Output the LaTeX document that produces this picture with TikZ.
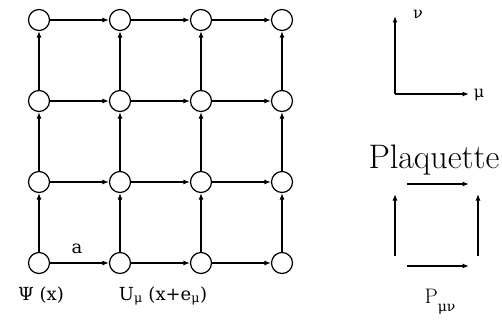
\documentclass[tikz,border=0pt]{standalone}
\usepackage{fontspec}
\newfontfamily\lblfont{DejaVu Serif}
\usetikzlibrary{arrows.meta}
\begin{document}
\begin{tikzpicture}[x=1pt,y=-1pt,
  site/.style={circle,draw,line width=1.2pt,minimum size=21pt,inner sep=0pt},
  link/.style={line width=1.2pt,-{Latex[length=6.5pt,width=5pt]}},
  lbl/.style={inner sep=0pt,anchor=base},
  small/.style={lbl,font=\lblfont\fontsize{18}{18}\selectfont}]
\useasboundingbox (0,0) rectangle (502,321);
\foreach \i/\x in {0/39,1/120,2/201,3/282}
  \foreach \j/\y in {0/263,1/182,2/101,3/20}
    \node[site] (n\i\j) at (\x,\y) {};
\foreach \i in {0,1,2} {
  \pgfmathtruncatemacro\k{\i+1}
  \foreach \j in {0,1,2,3} {
    \draw[link] (n\i\j) -- (n\k\j);
    \draw[link] (n\j\i) -- (n\j\k);
  }
}
% labels
\node[small] (la) at (77,253) {a};
\node[small] (lpsi) at (41,300) {Ψ (x)};
\node[small] (lu) at (163,300) {U\textsubscript{μ} (x+e\textsubscript{μ})};
% axes
\coordinate (o) at (395,94);
\coordinate (vt) at (395,16);
\coordinate (mt) at (469,94);
\draw[link] (o) -- (vt);
\draw[link] (o) -- (mt);
\node[small,font=\lblfont\fontsize{16}{16}\selectfont] (lnu) at (418,19) {ν};
\node[small,font=\lblfont\fontsize{16}{16}\selectfont] (lmu) at (479,97) {μ};
% plaquette
\node[lbl,font=\fontsize{34}{34}\selectfont] (lplaq) at (434,168) {Plaquette};
\coordinate (tl) at (407,184); \coordinate (tr) at (469,184);
\coordinate (bl) at (407,266); \coordinate (br) at (469,266);
\coordinate (ll) at (395,256); \coordinate (lu2) at (395,194);
\coordinate (rl) at (478,256); \coordinate (ru) at (478,194);
\draw[link] (tl) -- (tr);
\draw[link] (bl) -- (br);
\draw[link] (ll) -- (lu2);
\draw[link] (rl) -- (ru);
\node[lbl,font=\fontsize{21}{21}\selectfont] (lp) at (440,303) {P\raisebox{-8pt}{\lblfont\fontsize{14}{14}\selectfont μν}};
\end{tikzpicture}
\end{document}
